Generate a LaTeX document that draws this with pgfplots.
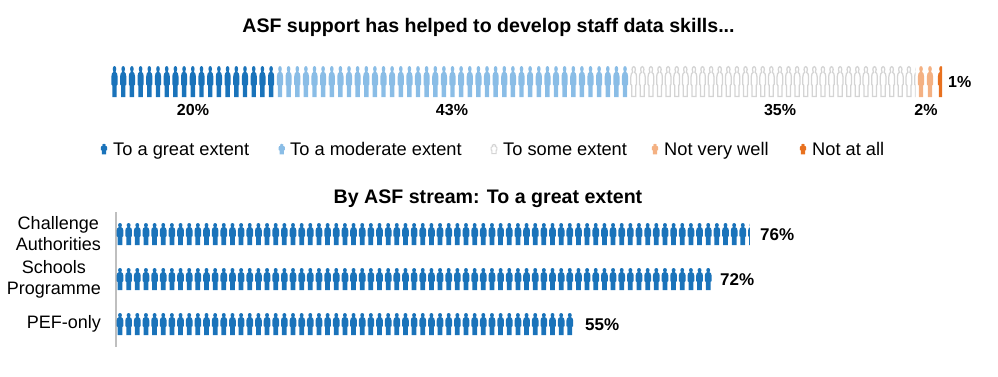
\documentclass[border=0pt]{standalone}
\usepackage{pgfplots}
\pgfplotsset{compat=1.18}
\usepackage{fontspec}
\setmainfont{Liberation Sans}
\definecolor{cdark}{HTML}{1A73BA}
\definecolor{cmed}{HTML}{8ABDE6}
\definecolor{cline}{HTML}{D4D4D4}
\definecolor{corl}{HTML}{F4B183}
\definecolor{cord}{HTML}{E8711F}
\definecolor{caxis}{HTML}{BFBFBF}
\newcommand{\personpath}{%
  \pgfpathmoveto{\pgfpoint{0pt}{15.5pt}}%
  \pgfpathcurveto{\pgfpoint{1.2pt}{15.5pt}}{\pgfpoint{1.8pt}{14pt}}{\pgfpoint{1.8pt}{12.5pt}}%
  \pgfpathcurveto{\pgfpoint{1.8pt}{11pt}}{\pgfpoint{1.1pt}{10.5pt}}{\pgfpoint{1.1pt}{9.5pt}}%
  \pgfpathcurveto{\pgfpoint{2.2pt}{9pt}}{\pgfpoint{3.1pt}{8pt}}{\pgfpoint{3.1pt}{5pt}}%
  \pgfpathlineto{\pgfpoint{3.1pt}{-3pt}}%
  \pgfpathlineto{\pgfpoint{2.2pt}{-4pt}}%
  \pgfpathlineto{\pgfpoint{2.2pt}{-15.5pt}}%
  \pgfpathlineto{\pgfpoint{-2.2pt}{-15.5pt}}%
  \pgfpathlineto{\pgfpoint{-2.2pt}{-4pt}}%
  \pgfpathlineto{\pgfpoint{-3.1pt}{-3pt}}%
  \pgfpathlineto{\pgfpoint{-3.1pt}{5pt}}%
  \pgfpathcurveto{\pgfpoint{-3.1pt}{8pt}}{\pgfpoint{-2.2pt}{9pt}}{\pgfpoint{-1.1pt}{9.5pt}}%
  \pgfpathcurveto{\pgfpoint{-1.1pt}{10.5pt}}{\pgfpoint{-1.8pt}{11pt}}{\pgfpoint{-1.8pt}{12.5pt}}%
  \pgfpathcurveto{\pgfpoint{-1.8pt}{14pt}}{\pgfpoint{-1.2pt}{15.5pt}}{\pgfpoint{0pt}{15.5pt}}%
  \pgfpathclose}
\pgfdeclareplotmark{personT}{\personpath\pgfusepathqfill}
\pgfdeclareplotmark{personW}{\pgfsetlinewidth{1.25pt}\pgfsetstrokecolor{cline}\pgfsetfillcolor{white}%
  \pgftransformxscale{0.92}\pgftransformyscale{0.96}\personpath\pgfusepathqfillstroke}
\pgfdeclareplotmark{personB}{\pgftransformxscale{1.08}\pgftransformyscale{0.71}\personpath\pgfusepathqfill}
\pgfdeclareplotmark{personTclip}{\pgfpathrectangle{\pgfpoint{-4pt}{-16pt}}{\pgfpoint{5pt}{32pt}}\pgfusepathqclip\personpath\pgfusepathqfill}
\pgfdeclareplotmark{personWclip}{\pgfpathrectangle{\pgfpoint{-5pt}{-16pt}}{\pgfpoint{3.2pt}{32pt}}\pgfusepathqclip
  \pgfsetlinewidth{1.25pt}\pgfsetstrokecolor{cline}\pgfsetfillcolor{white}\pgftransformxscale{0.92}\pgftransformyscale{0.96}\personpath\pgfusepathqfillstroke}
\pgfdeclareplotmark{personBclip}{\pgfpathrectangle{\pgfpoint{-4pt}{-12pt}}{\pgfpoint{2.4pt}{24pt}}\pgfusepathqclip
  \pgftransformxscale{1.08}\pgftransformyscale{0.71}\personpath\pgfusepathqfill}
\pgfdeclareplotmark{leg}{\pgftransformxscale{1.0}\pgftransformyscale{0.34}\personpath\pgfusepathqfill}
\pgfdeclareplotmark{legW}{\pgfsetlinewidth{1pt}\pgfsetstrokecolor{cline}\pgfsetfillcolor{white}\pgftransformxscale{0.95}\pgftransformyscale{0.3}\personpath\pgfusepathqfillstroke}
\newcommand{\lbl}{\fontsize{18}{21}\selectfont}
\newcommand{\lgd}{\fontsize{18.25}{21}\selectfont}
\newcommand{\ttl}{\fontsize{19.6}{23}\selectfont\bfseries}
\newcommand{\pct}{\fontsize{16}{19}\selectfont\bfseries}
\newcommand{\pctb}{\fontsize{17}{20}\selectfont\bfseries}
\begin{document}
\begin{tikzpicture}[x=1pt,y=1pt]
\path[use as bounding box] (0,0) rectangle (998,376);
% ---------- upper panel and all text, in a canvas-sized axis
\begin{axis}[at={(0pt,0pt)},anchor=south west,width=998pt,height=376pt,scale only axis,
  xmin=0,xmax=998,ymin=0,ymax=376,y dir=reverse,hide axis,clip=false]
\addplot[only marks,mark=personT,mark options={fill=cdark}] coordinates {
(114.5,81.5)(123.2,81.5)(131.9,81.5)(140.6,81.5)(149.3,81.5)(158,81.5)(166.7,81.5)(175.4,81.5)(184.1,81.5)(192.8,81.5)(201.5,81.5)(210.2,81.5)(218.9,81.5)(227.6,81.5)(236.3,81.5)(245,81.5)(253.7,81.5)(262.4,81.5)(271.1,81.5)};
\addplot[only marks,mark=personT,mark options={fill=cmed}] coordinates {
(280,81.5)(288.6,81.5)(297.3,81.5)(305.9,81.5)(314.5,81.5)(323.1,81.5)(331.8,81.5)(340.4,81.5)(349,81.5)(357.6,81.5)(366.3,81.5)(374.9,81.5)(383.5,81.5)(392.1,81.5)(400.8,81.5)(409.4,81.5)(418,81.5)(426.6,81.5)(435.3,81.5)(443.9,81.5)(452.5,81.5)(461.1,81.5)(469.8,81.5)(478.4,81.5)(487,81.5)(495.6,81.5)(504.3,81.5)(512.9,81.5)(521.5,81.5)(530.1,81.5)(538.8,81.5)(547.4,81.5)(556,81.5)(564.6,81.5)(573.3,81.5)(581.9,81.5)(590.5,81.5)(599.1,81.5)(607.8,81.5)(616.4,81.5)(625,81.5)};
\addplot[only marks,mark=personW] coordinates {
(633.7,81.5)(642.3,81.5)(650.9,81.5)(659.5,81.5)(668.1,81.5)(676.7,81.5)(685.3,81.5)(693.9,81.5)(702.5,81.5)(711.1,81.5)(719.7,81.5)(728.3,81.5)(736.9,81.5)(745.5,81.5)(754.1,81.5)(762.7,81.5)(771.3,81.5)(779.9,81.5)(788.5,81.5)(797.1,81.5)(805.7,81.5)(814.3,81.5)(822.9,81.5)(831.5,81.5)(840.1,81.5)(848.7,81.5)(857.3,81.5)(865.9,81.5)(874.5,81.5)(883.1,81.5)(891.7,81.5)(900.3,81.5)(908.9,81.5)};
\addplot[only marks,mark=personWclip] coordinates {(917.5,81.5)};
\addplot[only marks,mark=personT,mark options={fill=corl}] coordinates {(921,81.5)(930,81.5)};
\addplot[only marks,mark=personTclip,mark options={fill=cord}] coordinates {(941,81.5)};
% legend keys
\addplot[only marks,mark=leg,mark options={fill=cdark}] coordinates {(104,149)};
\addplot[only marks,mark=leg,mark options={fill=cmed}] coordinates {(281.7,149)};
\addplot[only marks,mark=legW] coordinates {(494,149)};
\addplot[only marks,mark=leg,mark options={fill=corl}] coordinates {(655,149)};
\addplot[only marks,mark=leg,mark options={fill=cord}] coordinates {(803,149)};
\node[font=\ttl,inner sep=0pt] at (axis cs:488.5,27.5) {ASF support has helped to develop staff data skills...};
\node[font=\ttl,inner sep=0pt] at (axis cs:488,199) {By ASF stream: To a great extent};
\node[font=\pct,inner sep=0pt] at (axis cs:193,110) {20\%};
\node[font=\pct,inner sep=0pt] at (axis cs:452,110) {43\%};
\node[font=\pct,inner sep=0pt] at (axis cs:780,110) {35\%};
\node[font=\pct,inner sep=0pt] at (axis cs:926,110) {2\%};
\node[font=\pct,inner sep=0pt,anchor=west] at (axis cs:948,82) {1\%};
\node[font=\lgd,inner sep=0pt,anchor=base west] at (axis cs:113,155) {To a great extent};
\node[font=\lgd,inner sep=0pt,anchor=base west] at (axis cs:290,155) {To a moderate extent};
\node[font=\lgd,inner sep=0pt,anchor=base west] at (axis cs:503,155) {To some extent};
\node[font=\lgd,inner sep=0pt,anchor=base west] at (axis cs:664,155) {Not very well};
\node[font=\lgd,inner sep=0pt,anchor=base west] at (axis cs:812,155) {Not at all};
\node[font=\pctb,inner sep=0pt,anchor=west] at (axis cs:760,235) {76\%};
\node[font=\pctb,inner sep=0pt,anchor=west] at (axis cs:720,280) {72\%};
\node[font=\pctb,inner sep=0pt,anchor=west] at (axis cs:585,325) {55\%};
\end{axis}
% ---------- lower panel: x is the number of figures in the row
\begin{axis}[at={(116pt,29pt)},anchor=south west,width=664pt,height=135pt,scale only axis,
  xmin=0.5376,xmax=77.30,ymin=0.489,ymax=3.489,clip=false,
  axis x line=none,axis y line=left,
  y axis line style={-,draw=caxis,line width=1.6pt},
  ytick={1,2,3},yticklabels={PEF-only,{Schools\\Programme},{Challenge\\Authorities}},
  major tick length=0pt,
  yticklabel style={align=center,font=\lbl,inner sep=0pt,xshift=-15pt}]
\addplot[only marks,mark=personB,mark options={fill=cdark}] coordinates {
(1,3)(2,3)(3,3)(4,3)(5,3)(6,3)(7,3)(8,3)(9,3)(10,3)(11,3)(12,3)(13,3)(14,3)(15,3)(16,3)(17,3)(18,3)(19,3)(20,3)(21,3)(22,3)(23,3)(24,3)(25,3)(26,3)(27,3)(28,3)(29,3)(30,3)(31,3)(32,3)(33,3)(34,3)(35,3)(36,3)(37,3)(38,3)(39,3)(40,3)(41,3)(42,3)(43,3)(44,3)(45,3)(46,3)(47,3)(48,3)(49,3)(50,3)(51,3)(52,3)(53,3)(54,3)(55,3)(56,3)(57,3)(58,3)(59,3)(60,3)(61,3)(62,3)(63,3)(64,3)(65,3)(66,3)(67,3)(68,3)(69,3)(70,3)(71,3)(72,3)(73,3)};
\addplot[only marks,mark=personBclip,mark options={fill=cdark}] coordinates {(74,3)};
\addplot[only marks,mark=personB,mark options={fill=cdark}] coordinates {
(1,2)(2,2)(3,2)(4,2)(5,2)(6,2)(7,2)(8,2)(9,2)(10,2)(11,2)(12,2)(13,2)(14,2)(15,2)(16,2)(17,2)(18,2)(19,2)(20,2)(21,2)(22,2)(23,2)(24,2)(25,2)(26,2)(27,2)(28,2)(29,2)(30,2)(31,2)(32,2)(33,2)(34,2)(35,2)(36,2)(37,2)(38,2)(39,2)(40,2)(41,2)(42,2)(43,2)(44,2)(45,2)(46,2)(47,2)(48,2)(49,2)(50,2)(51,2)(52,2)(53,2)(54,2)(55,2)(56,2)(57,2)(58,2)(59,2)(60,2)(61,2)(62,2)(63,2)(64,2)(65,2)(66,2)(67,2)(68,2)(69,2)};
\addplot[only marks,mark=personB,mark options={fill=cdark}] coordinates {
(1,1)(2,1)(3,1)(4,1)(5,1)(6,1)(7,1)(8,1)(9,1)(10,1)(11,1)(12,1)(13,1)(14,1)(15,1)(16,1)(17,1)(18,1)(19,1)(20,1)(21,1)(22,1)(23,1)(24,1)(25,1)(26,1)(27,1)(28,1)(29,1)(30,1)(31,1)(32,1)(33,1)(34,1)(35,1)(36,1)(37,1)(38,1)(39,1)(40,1)(41,1)(42,1)(43,1)(44,1)(45,1)(46,1)(47,1)(48,1)(49,1)(50,1)(51,1)(52,1)(53,1)};
\end{axis}
\end{tikzpicture}
\end{document}
